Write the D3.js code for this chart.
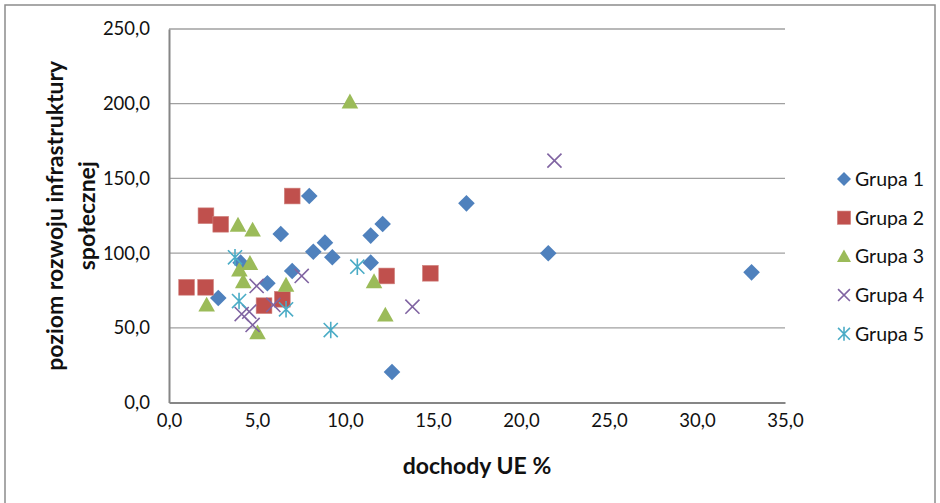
<!DOCTYPE html>
<html>
<head>
<meta charset="utf-8">
<script src="https://cdn.jsdelivr.net/npm/d3@7"></script>
<style>
  html, body { margin: 0; padding: 0; background: #fff; }
  svg { display: block; }
  text { font-family: Lato, "Open Sans", sans-serif; fill: #111; }
</style>
</head>
<body>
<svg id="chart" width="940" height="503"></svg>
<script>
// Scatter: EU income share (x) vs. social infrastructure development level (y), by group
const seriesNames = ["Grupa 1", "Grupa 2", "Grupa 3", "Grupa 4", "Grupa 5"];
const seriesColors = ["#4F81BD", "#C0504D", "#9BBB59", "#8064A2", "#4BACC6"];
const seriesShapes = ["diamond", "square", "triangle", "x", "star"];

const grupa1 = [
  [7.97, 138.2], [6.35, 112.8], [8.86, 107.0], [8.2, 100.9], [9.28, 97.2],
  [11.46, 111.7], [12.14, 119.5], [11.46, 93.6], [4.07, 93.6], [7.0, 88.0],
  [5.59, 79.8], [2.8, 69.9], [16.9, 133.3], [21.55, 99.9], [33.1, 87.1], [12.67, 20.4]
];
const grupa2 = [
  [7.0, 138.2], [2.1, 125.0], [2.94, 119.3], [1.0, 77.1], [2.08, 77.1],
  [5.4, 64.8], [6.44, 69.1], [12.37, 84.7], [14.85, 86.5]
];
const grupa3 = [
  [3.92, 118.8], [4.75, 115.5], [4.6, 93.2], [4.0, 88.7], [4.22, 80.9],
  [6.65, 78.6], [2.14, 65.3], [5.03, 46.7], [11.65, 80.9], [12.29, 58.6], [10.28, 201.3]
];
const grupa4 = [
  [7.54, 84.7], [4.98, 78.0], [5.93, 65.3], [4.13, 59.2], [4.56, 60.8],
  [4.75, 51.9], [21.9, 161.9], [13.83, 64.1]
];
const grupa5 = [
  [3.75, 97.2], [10.7, 90.9], [3.98, 67.9], [6.65, 62.4], [9.19, 48.5]
];
const seriesData = [grupa1, grupa2, grupa3, grupa4, grupa5];

const xTicks = [0, 5, 10, 15, 20, 25, 30, 35];
const yTicks = [0, 50, 100, 150, 200, 250];
const xTitle = "dochody UE %";
const yTitleLines = ["poziom rozwoju infrastruktury", "społecznej"];

const svg = d3.select("#chart");
const plot = { left: 169, right: 785, top: 29, bottom: 402.5 };

const x = d3.scaleLinear().domain([0, 35]).range([plot.left, plot.right]);
const y = d3.scaleLinear().domain([0, 250]).range([plot.bottom, plot.top]);
const fmt = v => d3.format(".1f")(v).replace(".", ",");

// outer chart frame
svg.append("rect")
  .attr("x", 5).attr("y", 5).attr("width", 930).attr("height", 510)
  .attr("fill", "none").attr("stroke", "#8c8c8c").attr("stroke-width", 1.5);

// horizontal gridlines
svg.append("g")
  .selectAll("line")
  .data(yTicks.filter(d => d > 0))
  .join("line")
  .attr("x1", plot.left).attr("x2", plot.right)
  .attr("y1", d => y(d)).attr("y2", d => y(d))
  .attr("stroke", "#a0a0a0").attr("stroke-width", 1.3);

// y axis
const yAxis = svg.append("g")
  .attr("transform", `translate(${plot.left},0)`)
  .call(d3.axisLeft(y).tickValues(yTicks).tickFormat(fmt).tickSize(0).tickPadding(19));
yAxis.select(".domain").attr("stroke", "#868686").attr("stroke-width", 2);
yAxis.selectAll("text").attr("font-size", 18.5).attr("fill", "#111")
  .style("font-family", "Lato, sans-serif");

// x axis
const xAxis = svg.append("g")
  .attr("transform", `translate(0,${plot.bottom})`)
  .call(d3.axisBottom(x).tickValues(xTicks).tickFormat(fmt).tickSize(0).tickPadding(11));
xAxis.select(".domain").attr("stroke", "#868686").attr("stroke-width", 2);
xAxis.selectAll("text").attr("font-size", 18.5).attr("fill", "#111")
  .style("font-family", "Lato, sans-serif");

// axis titles
svg.append("text")
  .attr("x", (plot.left + plot.right) / 2).attr("y", 474)
  .attr("text-anchor", "middle")
  .attr("font-size", 23).attr("font-weight", "bold")
  .text(xTitle);

const yTitle = svg.append("text")
  .attr("transform", `translate(63,${(plot.top + plot.bottom) / 2}) rotate(-90)`)
  .attr("text-anchor", "middle")
  .attr("font-size", 23).attr("font-weight", "bold");
yTitleLines.forEach((line, i) => {
  yTitle.append("tspan").attr("x", 0).attr("dy", i === 0 ? 0 : 32).text(line);
});

// marker drawing
function drawMarker(g, shape, color, s) {
  if (shape === "diamond") {
    g.append("path").attr("d", `M0,${-s}L${s},0L0,${s}L${-s},0Z`).attr("fill", color);
  } else if (shape === "square") {
    const h = s * 0.95;
    g.append("rect").attr("x", -h).attr("y", -h).attr("width", 2 * h).attr("height", 2 * h)
      .attr("fill", color).attr("stroke", "#d08580").attr("stroke-width", 0.6);
  } else if (shape === "triangle") {
    g.append("path").attr("d", `M0,${-s}L${s},${s * 0.8}L${-s},${s * 0.8}Z`).attr("fill", color);
  } else if (shape === "x") {
    const h = s * 0.85;
    g.append("path").attr("d", `M${-h},${-h}L${h},${h}M${-h},${h}L${h},${-h}`)
      .attr("stroke", color).attr("stroke-width", 1.6).attr("fill", "none");
  } else if (shape === "star") {
    const h = s * 0.85;
    g.append("path").attr("d", `M${-h},${-h}L${h},${h}M${-h},${h}L${h},${-h}M0,${-s}L0,${s}`)
      .attr("stroke", color).attr("stroke-width", 1.6).attr("fill", "none");
  }
}

// data points
seriesData.forEach((pts, i) => {
  const g = svg.append("g").attr("class", "series");
  pts.forEach(([vx, vy]) => {
    const m = g.append("g").attr("transform", `translate(${x(vx)},${y(vy)})`);
    drawMarker(m, seriesShapes[i], seriesColors[i], 8.3);
  });
});

// legend
const legend = svg.append("g");
seriesNames.forEach((name, i) => {
  const row = legend.append("g").attr("transform", `translate(844,${179 + i * 38.7})`);
  drawMarker(row, seriesShapes[i], seriesColors[i], 7);
  row.append("text").attr("x", 11).attr("y", 7)
    .attr("font-size", 19.5).text(name);
});
</script>
</body>
</html>
